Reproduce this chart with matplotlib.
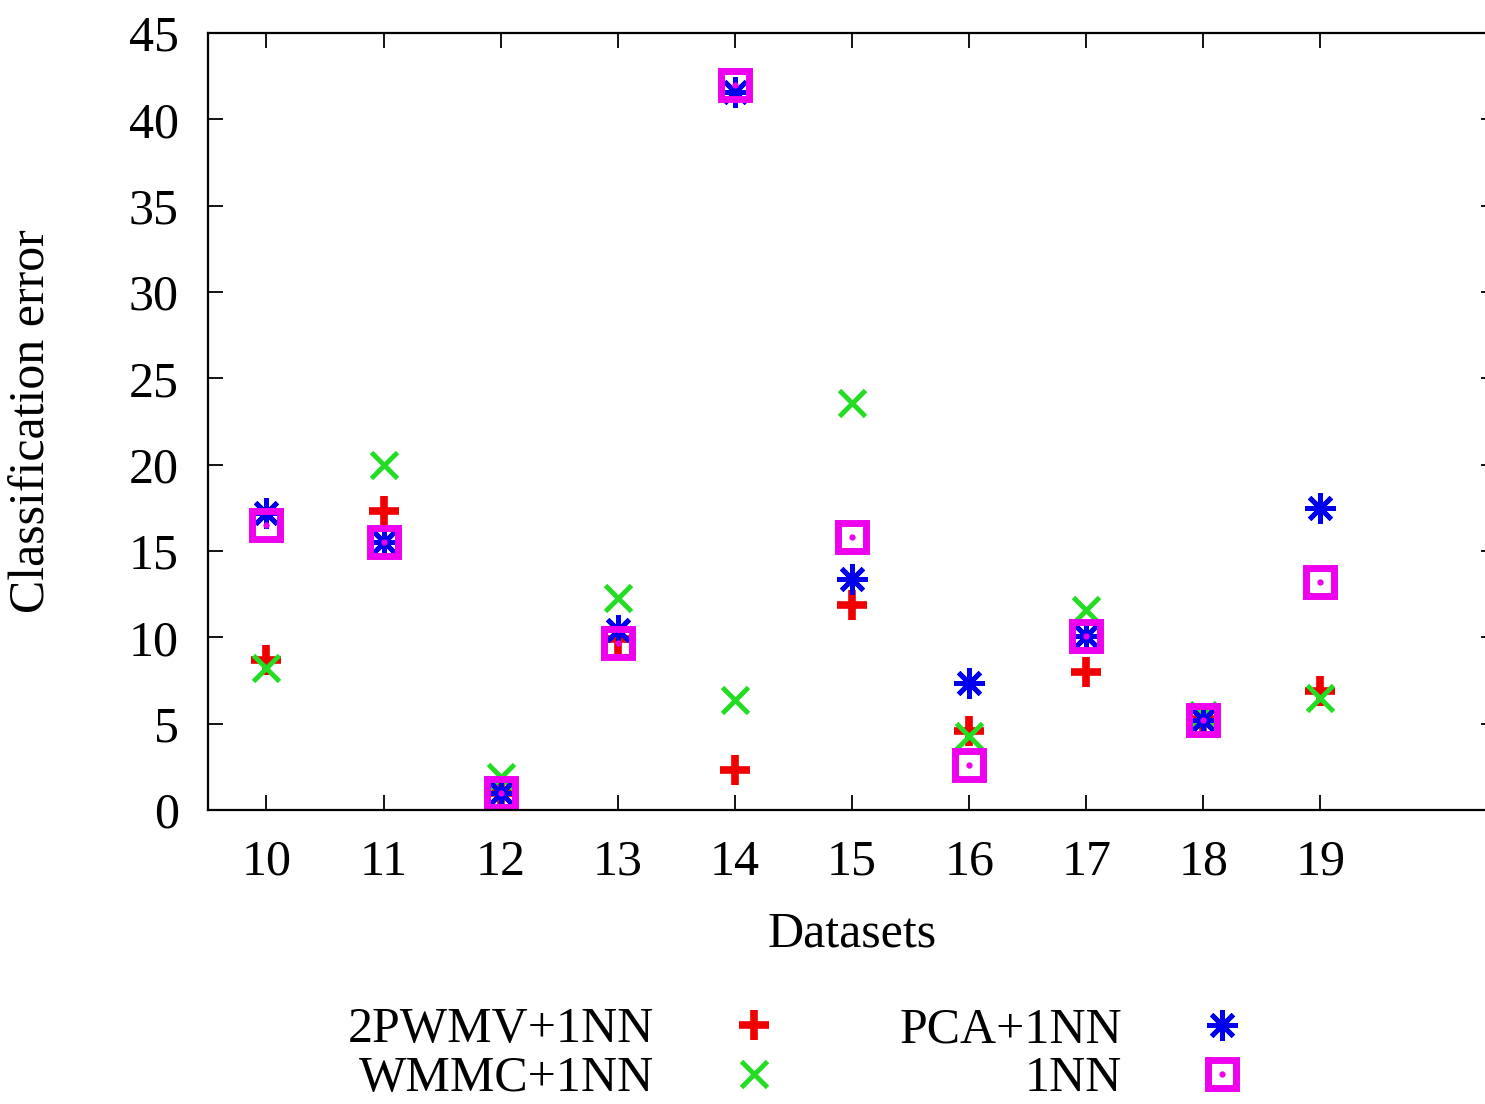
import matplotlib.pyplot as plt
import numpy as np

# --- style (gnuplot-like) ---
plt.rcParams['font.family'] = ['Liberation Serif', 'DejaVu Serif']
plt.rcParams['font.size'] = 36
plt.rcParams['axes.linewidth'] = 1.6
plt.rcParams['xtick.direction'] = 'in'
plt.rcParams['ytick.direction'] = 'in'

# --- data ---
datasets = [10, 11, 12, 13, 14, 15, 16, 17, 18, 19]
pwmv_1nn = [8.7, 17.3, 1.0, 9.9, 2.3, 11.9, 4.6, 8.0, 5.3, 6.9]
wmmc_1nn = [8.2, 20.0, 1.9, 12.3, 6.4, 23.6, 4.3, 11.6, 5.5, 6.5]
pca_1nn = [17.2, 15.5, 1.0, 10.4, 41.6, 13.4, 7.35, 10.1, 5.2, 17.5]
plain_1nn = [16.5, 15.5, 1.0, 9.7, 42.0, 15.8, 2.6, 10.1, 5.2, 13.2]

fig = plt.figure(figsize=(14.85, 11.04), dpi=100)
ax = fig.add_axes([0.140, 0.2663, 0.8675, 0.7037])

l1, = ax.plot(datasets, pwmv_1nn, linestyle='none', marker='+', markersize=22,
              markeredgewidth=5.5, color='#f00000', label='2PWMV+1NN')
l2, = ax.plot(datasets, wmmc_1nn, linestyle='none', marker='x', markersize=19,
              markeredgewidth=3.5, color='#22dd22', label='WMMC+1NN')
l3, = ax.plot(datasets, pca_1nn, linestyle='none', marker=(8, 2, 0), markersize=22,
              markeredgewidth=3.5, color='#0000ee', label='PCA+1NN')
l4, = ax.plot(datasets, plain_1nn, linestyle='none', marker='s', markersize=20,
              markeredgewidth=5, markerfacecolor='none', color='#ee00ee')
l4d, = ax.plot(datasets, plain_1nn, linestyle='none', marker='o', markersize=3.5,
               color='#ee00ee')

ax.set_xlim(9.5, 20.5)
ax.set_ylim(0, 45)
ax.set_xticks(datasets)
ax.set_yticks(np.arange(0, 46, 5))
ax.tick_params(top=True, right=True, length=11, width=1.3)
ax.tick_params(axis='y', pad=21)
ax.tick_params(axis='x', pad=21)

ax.set_xlabel('Datasets')
ax.set_ylabel('Classification error')
ax.xaxis.set_label_coords(0.5, -0.13)
ax.yaxis.set_label_coords(-0.118, 0.5)

fig.legend([l1, l2, l3, (l4, l4d)], ['2PWMV+1NN', 'WMMC+1NN', 'PCA+1NN', '1NN'],
           ncol=2, markerfirst=False, frameon=False, loc='center',
           bbox_to_anchor=(0.537, 0.045), handlelength=1.0, handletextpad=1.5,
           columnspacing=2.4, labelspacing=0.05, borderpad=0.1)

fig.savefig('out.png', dpi=100)
